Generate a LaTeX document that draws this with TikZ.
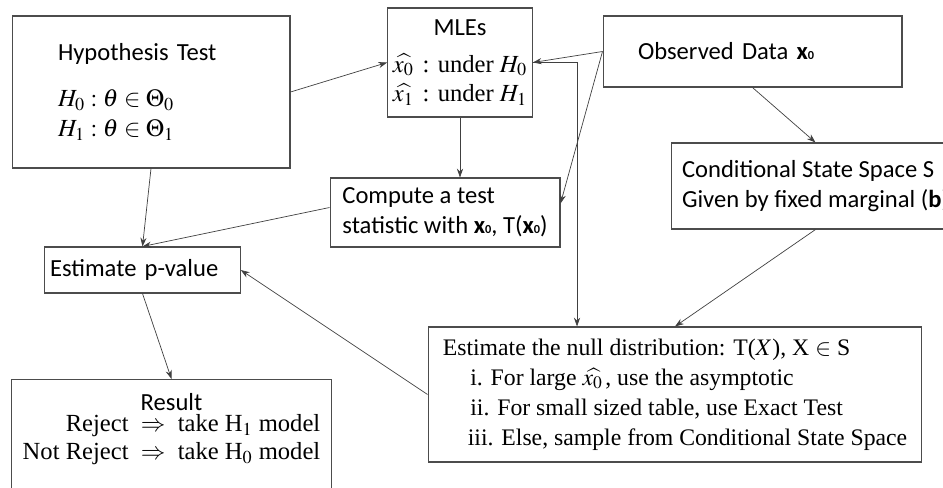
\documentclass[tikz,border=0pt]{standalone}
\usepackage{mathptmx}
\usepackage{fontspec}
\setmainfont{Liberation Serif}
\newfontfamily\calib{Carlito}
\usetikzlibrary{arrows.meta}
\newcommand{\xo}{\textbf{x{\scriptsize 0}}}

\begin{document}
\begin{tikzpicture}[x=0.02cm,y=-0.02cm,
    box/.style={draw=black!70,line width=0.6pt,inner sep=3pt},
    sf/.style={font=\calib\fontsize{14}{17}\selectfont},
    rm/.style={font=\fontsize{14}{17}\selectfont},
    >={Stealth[length=5pt,width=3.5pt]}]
\clip (0,0) rectangle (943,487);
% boxes
\node[box,rm,minimum width=5.56cm,minimum height=3.04cm,text width=3.72cm,align=left] (hyp) at (151,92)
    {{\calib Hypothesis Test}\\[9pt] $H_0:\theta\in\Theta_0$\\ $H_1:\theta\in\Theta_1$};
\node[box,rm,minimum width=2.8cm,minimum height=2.18cm,align=center] (mle) at (460,62.5)
    {{\calib MLEs}\\[4pt] $\widehat{x_0\,}$ : under $H_0$\\ $\widehat{x_1\,}$ : under $H_1$};
\node[box,sf,minimum width=5.98cm,minimum height=1.42cm,text width=4.58cm,align=left] (obs) at (752.5,51.5)
    {Observed Data \xo};
\node[box,sf,minimum width=5.78cm,minimum height=1.72cm,align=left] (cond) at (815.5,186)
    {Conditional State Space S\\ Given by fixed marginal (\textbf{b})};
\node[box,sf,minimum width=4.6cm,minimum height=1.38cm,align=left] (comp) at (445,212.5)
    {Compute a test\\ statistic with \xo, T(\xo)};
\node[box,sf,minimum width=3.9cm,minimum height=0.92cm,text width=3.7cm,align=left] (pval) at (142.5,270)
    {Estimate p-value};
\node[box,font=\fontsize{13.5}{17}\selectfont,minimum width=9.88cm,minimum height=2.7cm,align=left] (null) at (675,394.5)
    {Estimate the null distribution: T($X$), X $\in$ S\\
     \hspace*{0.55cm}i. For large $\widehat{x_0\,}$, use the asymptotic\\
     \hspace*{0.55cm}ii. For small sized table, use Exact Test\\
     \hspace*{0.5cm}iii. Else, sample from Conditional State Space};
\node[box,rm,minimum width=6.38cm,anchor=north] (res) at (171.5,379)
    {\parbox[t][2.3cm][t]{6.2cm}{\vspace*{5pt}\centering {\calib Result}\\[-1pt]
     \begin{tabular}{@{}r@{\ \ $\Rightarrow$\ \ }l@{}}
       Reject & take H$_1$ model\\[-1pt]
       Not Reject & take H$_0$ model
     \end{tabular}}};
% connectors
\draw[black!75,->] (hyp.east) -- (mle.west);
\draw[black!75,->] (obs.west) -- (mle.east);
\draw[black!75,->] (obs.west) -- ([yshift=0.18cm]comp.east);
\draw[black!75,->] (mle.east) -| ([xshift=-1.96cm]null.north);
\draw[black!75,->] (mle.south) -- (mle.south |- comp.north);
\draw[black!75,->] (obs.south) -- (cond.north);
\draw[black!75,->] (cond.south) -- (null.north);
\draw[black!75,->] (hyp.south) -- (pval.north);
\draw[black!75,->] ([yshift=0.1cm]comp.west) -- (pval.north);
\draw[black!75,->] (null.west) -- (pval.east);
\draw[black!75,->] (pval.south) -- (res.north);
\end{tikzpicture}
\end{document}
